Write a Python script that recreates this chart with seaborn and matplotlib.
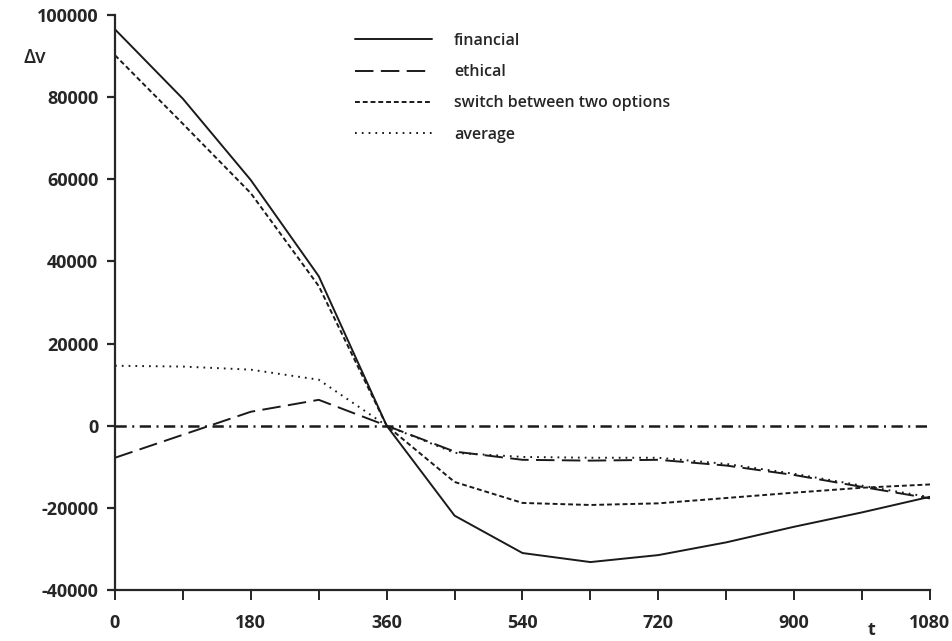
import numpy as np
import pandas as pd
import matplotlib
matplotlib.use('Agg')
import matplotlib.pyplot as plt
import seaborn as sns

# time steps
t = [0, 90, 180, 270, 360, 450, 540, 630, 720, 810, 900, 990, 1080]

financial = [96500, 79600, 59800, 36400, 0, -21900, -31000, -33200, -31500, -28400, -24600, -21100, -17300]
ethical = [-7800, -2200, 3400, 6300, 0, -6300, -8300, -8500, -8300, -9700, -12000, -14900, -17700]
switch = [90200, 73500, 56600, 34000, 0, -13700, -18800, -19300, -18900, -17600, -16300, -15100, -14300]
average = [14600, 14400, 13650, 11200, 0, -6600, -7600, -7800, -7800, -9300, -11700, -14600, -17400]

labels = ['financial', 'ethical', 'switch between two options', 'average']

sns.set_theme(style='ticks')
plt.rcParams['font.family'] = ['Open Sans', 'DejaVu Sans']
plt.rcParams['axes.unicode_minus'] = False

fig = plt.figure(figsize=(9.53, 6.41), dpi=100)
ax = fig.add_axes([115 / 953, 1 - 590 / 641, (930 - 115) / 953, (590 - 15) / 641])

# zero reference line
ax.axhline(0, color='k', lw=1.8, linestyle=(0, (4.5, 2.2, 0.8, 2.2)))

styles = ['-', (0, (9.5, 3.8)), (0, (2.5, 1.5)), (0, (0.9, 2.6))]
for vals, lab, ls in zip([financial, ethical, switch, average], labels, styles):
    sns.lineplot(x=t, y=vals, ax=ax, color='k', lw=1.4, linestyle=ls, label=lab)

ax.set_xlim(0, 1080)
ax.set_ylim(-40000, 100000)
ax.set_xticks(range(0, 1081, 180))
ax.set_xticks(range(90, 1080, 180), minor=True)
ax.set_yticks(range(-40000, 100001, 20000))
ax.set_xlabel('')
ax.set_ylabel('')

sns.despine(ax=ax)
for s in ['left', 'bottom']:
    ax.spines[s].set_linewidth(1.6)
ax.tick_params(axis='y', length=6, width=1.6, pad=6, labelsize=13)
ax.tick_params(axis='x', which='both', length=7.5, width=1.4, pad=10, labelsize=13)
for lbl in ax.get_xticklabels() + ax.get_yticklabels():
    lbl.set_fontweight('bold')

leg = ax.legend(loc='upper left', bbox_to_anchor=(355 / 953, 1 - 33 / 641),
                bbox_transform=fig.transFigure, frameon=False,
                handlelength=4.8, handletextpad=1.4, labelspacing=0.95,
                borderpad=0, borderaxespad=0,
                prop={'size': 11.5, 'weight': 'semibold'})

fig.text(24 / 953, 1 - 58 / 641, 'Δv', fontsize=14, fontweight='semibold', va='center', ha='left')
fig.text(872 / 953, 1 - 630 / 641, 't', fontsize=13, fontweight='bold', va='center', ha='center')

fig.savefig('out.png', dpi=100)
